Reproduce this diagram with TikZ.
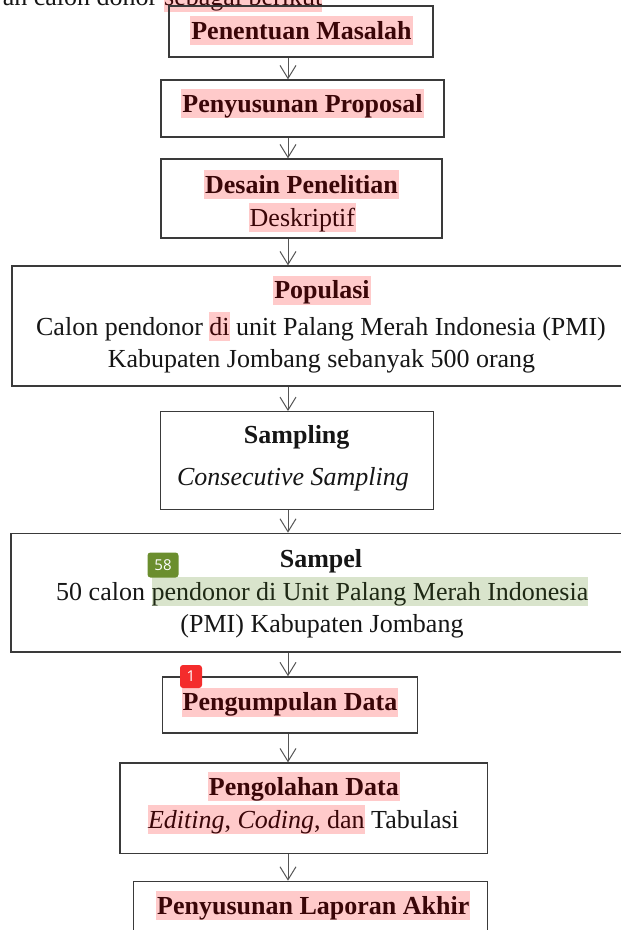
\documentclass[tikz,border=0pt]{standalone}
\usepackage{fontspec}
\setmainfont{Liberation Serif}
\newfontfamily\badgefont{Open Sans}
\usetikzlibrary{arrows.meta}
\definecolor{hlp}{HTML}{FFCACA}
\definecolor{hltext}{HTML}{3A0608}
\definecolor{hlg}{HTML}{D9E4CC}
\definecolor{hlgtext}{HTML}{1E2814}
\definecolor{txt}{HTML}{161616}
\definecolor{boxline}{HTML}{3A3A3A}
\definecolor{arrline}{HTML}{555555}
\definecolor{bgreen}{HTML}{6B8E2E}
\definecolor{bred}{HTML}{F42C2C}
\newcommand\hlpink[1]{{\setlength{\fboxsep}{0pt}\colorbox{hlp}{\rule[-6pt]{0pt}{29pt}\kern1pt\color{hltext}#1\kern1pt}}}
\newcommand\hlpinkin[1]{{\setlength{\fboxsep}{0pt}\colorbox{hlp}{\rule[-6pt]{0pt}{29pt}\color{hltext}#1}}}
\newcommand\hlgreen[1]{{\setlength{\fboxsep}{0pt}\colorbox{hlg}{\rule[-6pt]{0pt}{29pt}\color{hlgtext}#1}}}
\begin{document}
\begin{tikzpicture}[x=1pt,y=-1pt,
  box/.style={draw=boxline, line width=1.3pt, fill=none, inner sep=0pt, anchor=center},
  ln/.style={inner sep=0pt, text height=23pt, text depth=6pt, anchor=center, text=txt,
    font=\fontsize{26}{32}\selectfont},
  arr/.style={draw=arrline, line width=1pt, -{Straight Barb[length=13pt,width=16pt,line width=1pt]}},
  badge/.style={rounded corners=3pt, inner sep=0pt, text=white, font=\badgefont\fontsize{15}{17}\selectfont}
]
\useasboundingbox (0,0) rectangle (621,930);
\clip (0,0) rectangle (621,930);
\fill[white] (0,0) rectangle (621,930);

% partial line at top
\node[ln, anchor=west] (t0b) at (164,-3) {\hlpinkin{sebagai berikut}};
\node[ln, anchor=east] (t0a) at ([xshift=-6.5pt]t0b.west) {an calon donor};

% boxes
\node[box, minimum width=264pt, minimum height=51pt] (b1) at (301,31.5) {};
\node[box, minimum width=283pt, minimum height=57pt] (b2) at (302.5,108.5) {};
\node[box, minimum width=281pt, minimum height=79pt] (b3) at (301.5,198.5) {};
\node[box, minimum width=620pt, minimum height=120pt] (b4) at (322,326) {};
\node[box, minimum width=272.6pt, minimum height=97.6pt] (b5) at (297,460.5) {};
\node[box, minimum width=621pt, minimum height=118.7pt] (b6) at (321.5,592.7) {};
\node[box, minimum width=255.4pt, minimum height=56pt] (b7) at (290.1,704.9) {};
\node[box, minimum width=367.7pt, minimum height=90.6pt] (b8) at (303.9,808.3) {};
\node[box, minimum width=354.4pt, minimum height=63.3pt] (b9) at (310.5,913) {};

% texts
\node[ln] (l1) at (301.5,30.5) {\bfseries\hlpink{Penentuan Masalah}};
\node[ln] (l2) at (302.5,103.5) {\bfseries\hlpink{Penyusunan Proposal}};
\node[ln] (l3a) at (301.5,184.5) {\bfseries\hlpink{Desain Penelitian}};
\node[ln] (l3b) at (302.4,217.5) {\hlpink{Deskriptif}};
\node[ln] (l4a) at (322,290) {\bfseries\hlpink{Populasi}};
\node[ln] (l4b) at (321,326.7) {Calon pendonor \hlpinkin{di} unit Palang Merah Indonesia (PMI)};
\node[ln] (l4c) at (321.5,359) {Kabupaten Jombang sebanyak 500 orang};
\node[ln] (l5a) at (296.7,434.8) {\bfseries Sampling};
\node[ln] (l5b) at (293,476.5) {\itshape Consecutive Sampling};
\node[ln] (l6a) at (321,559) {\bfseries Sampel};
\node[ln] (l6b) at (322.3,591.5) {50 calon \hlgreen{pendonor di Unit Palang Merah Indonesia}};
\node[ln] (l6c) at (322,624) {(PMI) Kabupaten Jombang};
\node[ln] (l7) at (290,702) {\bfseries\hlpink{Pengumpulan Data}};
\node[ln] (l8a) at (303.9,786.7) {\bfseries\hlpink{Pengolahan Data}};
\node[ln] (l8b) at (303.5,819.7) {\hlpinkin{\textit{Editing}, \textit{Coding}, dan} Tabulasi};
\node[ln] (l9) at (313.3,905.5) {\bfseries\hlpink{Penyusunan Laporan Akhir}};

% badges
\node[badge, fill=bgreen, minimum width=31pt, minimum height=25pt] (g58) at (163,565) {58};
\node[badge, fill=bred, minimum width=22pt, minimum height=23pt] (r1) at (191,676.5) {1};

% arrows
\coordinate (ax) at (288,0);
\draw[arr] (b1.south -| ax) -- (b2.north -| ax);
\draw[arr] (b2.south -| ax) -- (b3.north -| ax);
\draw[arr] (b3.south -| ax) -- (b4.north -| ax);
\draw[arr] (b4.south -| ax) -- (b5.north -| ax);
\draw[arr] (b5.south -| ax) -- (b6.north -| ax);
\draw[arr] (b6.south -| ax) -- (b7.north -| ax);
\draw[arr] (b7.south -| ax) -- (b8.north -| ax);
\draw[arr] (b8.south -| ax) -- (b9.north -| ax);
\end{tikzpicture}
\end{document}
